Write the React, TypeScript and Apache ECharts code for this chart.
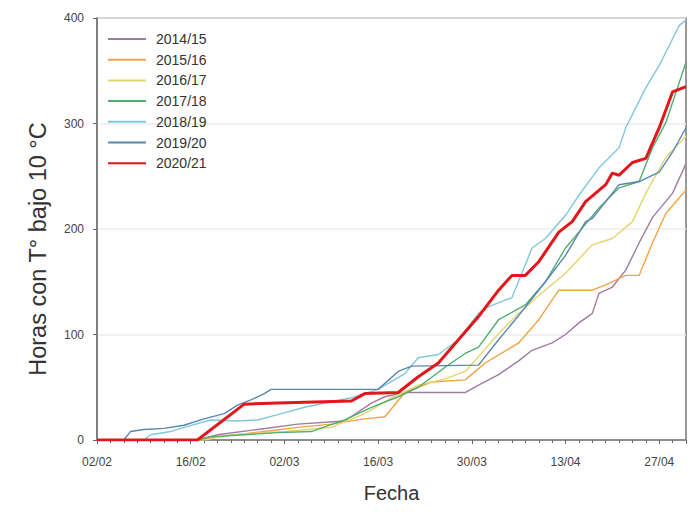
import React, { useEffect, useRef } from "react";
import * as echarts from "echarts";

// x = days since 02/02 ; y = accumulated hours below 10 °C
const tickLabels = ["02/02", "16/02", "02/03", "16/03", "30/03", "13/04", "27/04"];
const seasons = ["2014/15", "2015/16", "2016/17", "2017/18", "2018/19", "2019/20", "2020/21"];
const colors = ["#a07ba0", "#f2a445", "#e2d66e", "#4fae72", "#80c8da", "#5b86b0", "#e3161b"];

const s1415: [number, number][] = [
  [0, 0], [15, 0], [18, 5], [24, 10], [30, 15], [37, 18], [41, 35], [43, 41], [46, 45], [55, 45],
  [57, 52], [60, 62], [63, 75], [65, 85], [68, 92], [70, 100], [72, 111], [74, 120], [75, 139],
  [77, 145], [79, 161], [81, 187], [83, 211], [86, 234], [88, 262],
];
const s1516: [number, number][] = [
  [0, 0], [15, 0], [18, 3], [25, 8], [30, 12], [35, 15], [40, 20], [43, 22], [46, 45], [50, 55],
  [55, 57], [58, 73], [63, 92], [66, 114], [69, 142], [74, 142], [76, 147], [79, 156], [81, 156],
  [83, 187], [85, 215], [88, 237],
];
const s1617: [number, number][] = [
  [0, 0], [16, 0], [20, 5], [28, 8], [35, 12], [40, 25], [44, 40], [48, 52], [52, 58], [55, 65],
  [57, 79], [60, 101], [63, 120], [66, 137], [70, 158], [74, 185], [77, 191], [80, 207], [82, 234],
  [85, 268], [88, 288],
];
const s1718: [number, number][] = [
  [0, 0], [15, 0], [17, 3], [22, 5], [27, 7], [32, 8], [37, 19], [41, 31], [45, 41], [48, 50],
  [52, 69], [55, 82], [57, 88], [60, 114], [64, 128], [67, 150], [70, 182], [72, 197], [75, 220],
  [78, 239], [81, 245], [83, 277], [85, 301], [87, 339], [88, 358],
];
const s1819: [number, number][] = [
  [0, 0], [7, 0], [8, 5], [11, 8], [13, 12], [17, 19], [21, 18], [24, 19], [27, 24], [31, 31],
  [38, 40], [42, 48], [46, 63], [48, 78], [51, 81], [54, 95], [57, 120], [58, 125], [62, 135],
  [65, 182], [67, 191], [70, 213], [72, 232], [75, 258], [78, 277], [79, 296], [82, 334], [84, 355],
  [87, 393], [88, 398],
];
const s1920: [number, number][] = [
  [0, 0], [4, 0], [5, 8], [7, 10], [10, 11], [13, 14], [16, 20], [19, 25], [21, 33], [23, 38],
  [25, 44], [26, 48], [42, 48], [45, 65], [47, 70], [57, 71], [60, 95], [63, 118], [67, 150],
  [70, 175], [73, 207], [74, 210], [78, 242], [81, 245], [84, 254], [86, 273], [88, 296],
];
const s2021: [number, number][] = [
  [0, 0], [15, 0], [22, 34], [27, 35], [38, 37], [40, 44], [45, 45], [48, 60], [51, 73], [54, 95],
  [57, 117], [60, 142], [62, 156], [64, 156], [66, 169], [69, 197], [71, 207], [73, 226], [76, 242],
  [77, 253], [78, 251], [80, 263], [82, 267], [84, 296], [86, 330], [88, 335],
];
const seriesData = [s1415, s1516, s1617, s1718, s1819, s1920, s2021];

export default function App() {
  const ref = useRef<HTMLDivElement>(null);
  useEffect(() => {
    if (!ref.current) return;
    const chart = echarts.init(ref.current, undefined, { renderer: "svg" });
    const font = "Liberation Sans, Arial, sans-serif";
    chart.setOption({
      animation: false,
      textStyle: { fontFamily: font },
      grid: {
        left: 97, right: 8, top: 18, bottom: 72,
        show: true, borderColor: "#777", borderWidth: 1.5, backgroundColor: "#fff",
      },
      legend: {
        orient: "vertical", left: 102, top: 27, itemWidth: 38, itemHeight: 14, itemGap: 6.7,
        itemStyle: { opacity: 0 },
        textStyle: { fontSize: 14, color: "#333", fontFamily: font, padding: [0, 0, 0, 5] },
        data: seasons,
      },
      xAxis: {
        type: "value", min: 0, max: 88, interval: 14,
        name: "Fecha", nameLocation: "middle", nameGap: 43,
        nameTextStyle: { fontSize: 20, color: "#333", fontFamily: font },
        axisLine: { show: true, lineStyle: { color: "#777", width: 1.5 } },
        axisTick: { show: true, length: 4, lineStyle: { color: "#666" } },
        minorTick: { show: true, splitNumber: 7, length: 3, lineStyle: { color: "#666" } },
        axisLabel: {
          fontSize: 12, color: "#444", margin: 16,
          formatter: (v: number) => {
            const i = Math.round(v / 14);
            return v % 14 === 0 && tickLabels[i] ? tickLabels[i] : "";
          },
        },
        splitLine: { show: false },
      },
      yAxis: {
        type: "value", min: 0, max: 400, interval: 100,
        name: "Horas con T° bajo 10 °C", nameLocation: "middle", nameGap: 47,
        nameTextStyle: { fontSize: 23.5, color: "#333", fontFamily: font, padding: [0, 40, 0, 0] },
        axisLine: { show: true, lineStyle: { color: "#777", width: 1.5 } },
        axisTick: { show: true, length: 4, lineStyle: { color: "#666" } },
        axisLabel: { fontSize: 12, color: "#444", margin: 13 },
        splitLine: { show: true, lineStyle: { color: "#ececec", width: 1.5 } },
      },
      series: seasons.map((name, i) => ({
        name, type: "line", data: seriesData[i], symbol: "none",
        lineStyle: { color: colors[i], width: i === 6 ? 3 : 1.4 },
        itemStyle: { color: colors[i] },
        z: i === 6 ? 10 : 2,
      })),
    });
    return () => chart.dispose();
  }, []);
  return <div ref={ref} style={{ width: 694, height: 512, position: "absolute", left: 0, top: 0 }} />;
}
